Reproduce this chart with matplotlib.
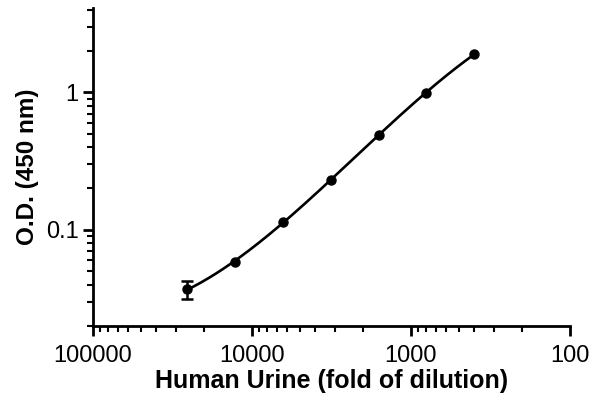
import numpy as np
import matplotlib.pyplot as plt
from matplotlib.ticker import LogLocator, FuncFormatter, NullFormatter

plt.rcParams['font.family'] = ['Liberation Sans', 'DejaVu Sans']

# dilution vs O.D.
dilution = np.array([25600, 12800, 6400, 3200, 1600, 800, 400])
od = np.array([0.037, 0.058, 0.115, 0.23, 0.49, 0.99, 1.9])
od_err = np.array([0.0055, 0, 0, 0, 0, 0, 0])

fig = plt.figure(figsize=(6, 4.03), dpi=100)
ax = fig.add_axes([0.155, 0.191, 0.795, 0.789])

# smooth fitted curve in log-log space
coeffs = np.polyfit(np.log10(dilution), np.log10(od), 3)
poly = np.poly1d(coeffs)
xs = np.logspace(np.log10(dilution.min()), np.log10(dilution.max()), 200)
ax.plot(xs, 10 ** poly(np.log10(xs)), color='black', lw=1.9)

ax.errorbar(dilution[:1], od[:1], yerr=od_err[:1], fmt='none', ecolor='black',
            capsize=4, elinewidth=1.8, capthick=1.8)
ax.plot(dilution, od, 'o', color='black', ms=6.5)

ax.set_xscale('log')
ax.set_yscale('log')
ax.set_xlim(100000, 100)
ax.set_ylim(0.02, 4.1)

ax.xaxis.set_major_locator(LogLocator(base=10, numticks=10))
ax.xaxis.set_minor_locator(LogLocator(base=10, subs=np.arange(2, 10), numticks=20))
ax.xaxis.set_major_formatter(FuncFormatter(lambda v, p: f'{v:.0f}'))
ax.xaxis.set_minor_formatter(NullFormatter())

ax.set_yticks([0.1, 1])
ax.yaxis.set_minor_locator(LogLocator(base=10, subs=np.arange(2, 10), numticks=20))
ax.yaxis.set_major_formatter(FuncFormatter(lambda v, p: f'{v:g}'))
ax.yaxis.set_minor_formatter(NullFormatter())

for s in ['top', 'right']:
    ax.spines[s].set_visible(False)
for s in ['left', 'bottom']:
    ax.spines[s].set_linewidth(2)

ax.tick_params(which='major', length=7, width=2, labelsize=17, direction='out')
ax.tick_params(which='minor', length=4, width=1.5, direction='out')
ax.tick_params(axis='x', which='major', pad=7)

ax.set_xlabel('Human Urine (fold of dilution)', fontsize=18, fontweight='bold', labelpad=1)
ax.set_ylabel('O.D. (450 nm)', fontsize=17.5, fontweight='bold', labelpad=5)

fig.savefig('out.png', dpi=100)
